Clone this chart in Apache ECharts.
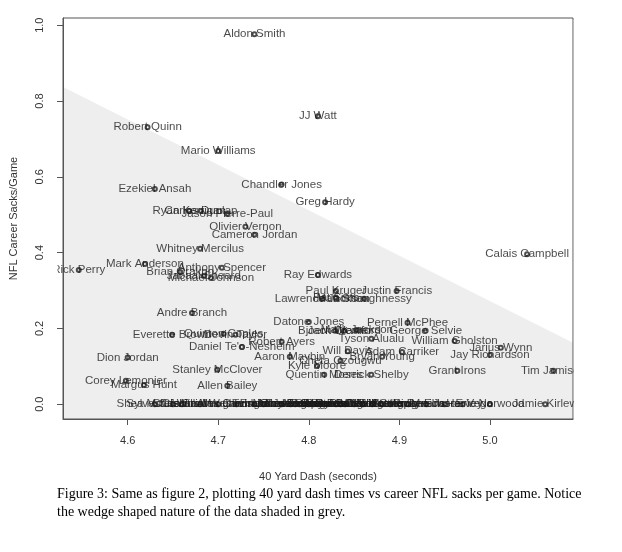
<!DOCTYPE html>
<html>
<head>
<meta charset="utf-8">
<script src="https://cdn.jsdelivr.net/npm/echarts@6/dist/echarts.min.js"></script>
<style>
  html, body { margin: 0; padding: 0; background: #fff; }
  #main { width: 622px; height: 552px; }
</style>
</head>
<body>
<div id="main"></div>
<script>
// players (name, 40 yard dash, career sacks per game)
var names = [
    'Aldon Smith', 'JJ Watt', 'Robert Quinn', 'Mario Williams', 'Ezekiel Ansah',
    'Chandler Jones', 'Greg Hardy', 'Ryan Kerrigan', 'Carlos Dunlap', 'Jason Pierre-Paul',
    'Olivier Vernon', 'Cameron Jordan', 'Whitney Mercilus', 'Mark Anderson', 'Rick Perry',
    'Brian Orakpo', 'Anthony Spencer', 'Michael Johnson', 'Jabaal Sheard', 'Ray Edwards',
    'Calais Campbell', 'Paul Kruger', 'Justin Francis', 'Lawrence Jackson', 'Pat Sims',
    'Matt Shaughnessy', 'Datone Jones', 'Bjoern Werner', 'Malik Jackson', 'Jack Crawford',
    'Pernell McPhee', 'George Selvie', 'Tyson Alualu', 'William Gholston', 'Jarius Wynn',
    'Jay Richardson', 'Tim Jamison', 'Grant Irons', 'Will Davis', 'Adam Carriker',
    'Bryan Young', 'Cheta Ozougwu', 'Kyle Moore', 'Quentin Moses', 'Derrick Shelby',
    'Robert Ayers', "Daniel Te'o-Nesheim", 'Aaron Maybin', 'Andre Branch', 'Everette Brown',
    'Quinton Coples', 'Devin Taylor', 'Dion Jordan', 'Stanley McClover', 'Corey Lemonier',
    'Margus Hunt', 'Allen Bailey',
    'Shea McClellin', 'Sylvester Williams', 'Chris Smith', 'Cassius Vaughn', 'Jamaal Westerman',
    'Alex Carrington', 'Jarvis Jones', 'Tank Carder', 'Brandon Sharpe', 'Larry English',
    'Trevor Scott', 'Michael Buchanan', 'Kourtnei Brown', 'Jason Worilds', 'Austen Lane',
    'Jeremy Beal', 'Brandon Lang', 'Greg Romeus', 'Brian Sanford', 'Ryan Davis',
    'Lazarius Levingston', 'C.J. Wilson', 'Willie Young', 'Cliff Matthews', 'Mike Catapano',
    'Joe Kruger', 'Steven Means', 'Ricky Elmore', 'Derrick Harvey', 'Jason Vega',
    'Eric Norwood', 'Jamie Kirlew'
];
var dash = [
    4.74, 4.81, 4.622, 4.70, 4.630,
    4.77, 4.818, 4.668, 4.681, 4.710,
    4.730, 4.740, 4.680, 4.619, 4.546,
    4.658, 4.704, 4.692, 4.684, 4.810,
    5.041, 4.830, 4.897, 4.815, 4.830,
    4.861, 4.800, 4.829, 4.853, 4.839,
    4.909, 4.929, 4.869, 4.961, 5.012,
    5.000, 5.070, 4.964, 4.843, 4.903,
    4.881, 4.835, 4.809, 4.817, 4.869,
    4.770, 4.726, 4.779, 4.671, 4.649,
    4.706, 4.719, 4.600, 4.699, 4.598,
    4.618, 4.710,
    4.63, 4.65, 4.66, 4.68, 4.70,
    4.72, 4.74, 4.75, 4.77, 4.78,
    4.785, 4.79, 4.795, 4.80, 4.805,
    4.81, 4.82, 4.83, 4.835, 4.84,
    4.85, 4.86, 4.87, 4.88, 4.89,
    4.90, 4.91, 4.93, 4.95, 4.97,
    5.00, 5.061
];
var sacks = [
    0.976, 0.76, 0.731, 0.668, 0.568,
    0.58, 0.533, 0.510, 0.510, 0.502,
    0.468, 0.447, 0.410, 0.370, 0.354,
    0.349, 0.360, 0.333, 0.338, 0.341,
    0.396, 0.299, 0.299, 0.278, 0.281,
    0.278, 0.217, 0.194, 0.196, 0.194,
    0.215, 0.194, 0.173, 0.167, 0.149,
    0.130, 0.088, 0.088, 0.140, 0.138,
    0.125, 0.115, 0.101, 0.078, 0.078,
    0.165, 0.151, 0.125, 0.241, 0.183,
    0.186, 0.183, 0.123, 0.091, 0.062,
    0.051, 0.049,
    0, 0, 0, 0, 0,
    0, 0, 0, 0, 0,
    0, 0, 0, 0, 0,
    0, 0, 0, 0, 0,
    0, 0, 0, 0, 0,
    0, 0, 0, 0, 0,
    0, 0
];
// shaded wedge edge
var wedgeX = [4.5286, 5.0917];
var wedgeY = [0.837, 0.162];
var xTicks = [4.6, 4.7, 4.8, 4.9, 5.0];
var yTicks = [0, 0.2, 0.4, 0.6, 0.8, 1.0];

var pts = [];
for (var i = 0; i < names.length; i++) {
    pts.push({name: names[i], value: [dash[i], sacks[i]]});
}
var wedge = [];
for (var j = 0; j < wedgeX.length; j++) {
    wedge.push([wedgeX[j], wedgeY[j]]);
}

var myChart = echarts.init(document.getElementById('main'));
var option = {
    animation: false,
    textStyle: {fontFamily: 'Liberation Sans'},
    grid: {left: 58, right: 49, top: 18, bottom: 133, show: true, borderColor: '#555', borderWidth: 1},
    xAxis: {
        type: 'value', min: 4.5286, max: 5.0917,
        name: '40 Yard Dash (seconds)', nameLocation: 'middle', nameGap: 52,
        nameTextStyle: {color: '#333', fontSize: 11},
        axisLine: {show: true, onZero: false, lineStyle: {color: '#555'}},
        axisTick: {show: true, length: 6, customValues: xTicks, lineStyle: {color: '#555'}},
        axisLabel: {customValues: xTicks, margin: 16, color: '#333', fontSize: 11,
            formatter: function (v) { return v.toFixed(1); }},
        splitLine: {show: false}
    },
    yAxis: {
        type: 'value', min: -0.039, max: 1.019,
        name: 'NFL Career Sacks/Game', nameLocation: 'middle', nameGap: 44,
        nameTextStyle: {color: '#333', fontSize: 11},
        axisLine: {show: true, onZero: false, lineStyle: {color: '#555'}},
        axisTick: {show: true, length: 6, customValues: yTicks, lineStyle: {color: '#555'}},
        axisLabel: {customValues: yTicks, margin: 18, rotate: 90, color: '#333', fontSize: 11,
            formatter: function (v) { return v.toFixed(1); }},
        splitLine: {show: false}
    },
    series: [
        {
            type: 'line', data: wedge, symbol: 'none', silent: true,
            lineStyle: {width: 0}, areaStyle: {color: '#eeeeee', opacity: 1, origin: 'start'},
            z: -1
        },
        {
            type: 'scatter', data: pts, symbol: 'emptyCircle', symbolSize: 4,
            itemStyle: {color: '#222', borderColor: '#222', borderWidth: 1},
            label: {
                show: true, position: 'inside', color: '#1a1a1a', fontSize: 11.5,
                formatter: function (p) { return p.name; }
            },
            z: 3
        }
    ],
    graphic: [
        // clip labels that run past the plot box
        {type: 'rect', shape: {x: 22, y: 262, width: 35.5, height: 16}, style: {fill: '#fff'}, z: 100},
        {type: 'rect', shape: {x: 573.8, y: 20, width: 50, height: 398}, style: {fill: '#fff'}, z: 100},
        {type: 'text', left: 57, top: 487, z: 100, style: {
            text: 'Figure 3: Same as figure 2, plotting 40 yard dash times vs career NFL sacks per game. Notice',
            font: '14px "Liberation Serif"', fill: '#000'}},
        {type: 'text', left: 57, top: 505, z: 100, style: {
            text: 'the wedge shaped nature of the data shaded in grey.',
            font: '14px "Liberation Serif"', fill: '#000'}}
    ]
};
myChart.setOption(option);
</script>
</body>
</html>
